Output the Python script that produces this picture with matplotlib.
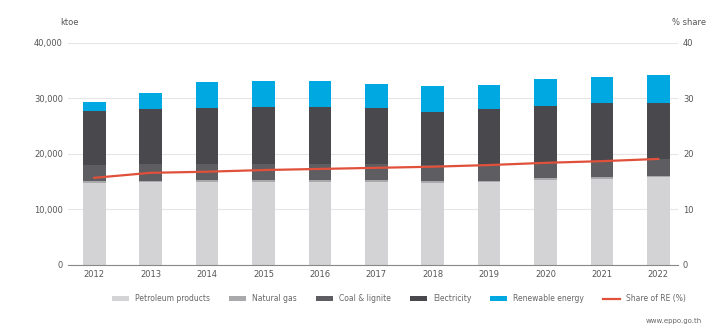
import numpy as np
import matplotlib
matplotlib.use("Agg")
import matplotlib.pyplot as plt

years = ["2012", "2013", "2014", "2015", "2016", "2017", "2018", "2019", "2020", "2021", "2022"]

# ktoe
petroleum = [14800, 14900, 15000, 15000, 15000, 15000, 14800, 14900, 15300, 15500, 15800]
natural_gas = [300, 300, 300, 300, 300, 300, 300, 300, 300, 300, 300]
coal = [2900, 2900, 2900, 2900, 2900, 2900, 2900, 2900, 2900, 2900, 2900]
dark_tops = [27750, 28110, 28290, 28470, 28470, 28290, 27570, 28110, 28650, 29190, 29190]
totals = [29370, 30990, 32970, 33150, 33150, 32610, 32250, 32430, 33510, 33870, 34230]
share = [15.7, 16.6, 16.8, 17.1, 17.3, 17.5, 17.7, 18.0, 18.4, 18.7, 19.1]

labels = ["Petroleum products", "Natural gas", "Coal & lignite",
          "Electricity", "Renewable energy", "Share of RE (%)"]

p = np.array(petroleum)
g = np.array(natural_gas)
c = np.array(coal)
elec = np.array(dark_tops) - (p + g + c)
ren = np.array(totals) - np.array(dark_tops)

fig = plt.figure(figsize=(7.13, 3.3), dpi=100)
ax = fig.add_axes([0.095, 0.197, 0.856, 0.673])
x = np.arange(len(years))
w = 0.4

cols = ["#d3d3d5", "#a9a9ac", "#5d5d62", "#48484d", "#00a8e1"]
bottom = np.zeros(len(years))
for vals, col, lab in zip([p, g, c, elec, ren], cols, labels[:5]):
    ax.bar(x, vals, w, bottom=bottom, color=col, label=lab, zorder=2)
    bottom = bottom + vals

ax.set_ylim(0, 40000)
ax.set_xlim(-0.47, 10.35)
ax.set_yticks([0, 10000, 20000, 30000, 40000])
ax.set_yticklabels(["0", "10,000", "20,000", "30,000", "40,000"])
ax.set_xticks(x)
ax.set_xticklabels(years)
ax.tick_params(labelsize=6, colors="#555555", length=0)
ax.grid(axis="y", color="#e6e6e6", lw=0.8, zorder=0)
for s in ["top", "right", "left"]:
    ax.spines[s].set_visible(False)
ax.spines["bottom"].set_color("#888888")

ax2 = ax.twinx()
ax2.plot(x, share, color="#e0503a", lw=1.6, label=labels[5], zorder=5)
ax2.set_ylim(0, 40)
ax2.set_yticks([0, 10, 20, 30, 40])
ax2.tick_params(labelsize=6, colors="#555555", length=0)
for s in ["top", "right", "left", "bottom"]:
    ax2.spines[s].set_visible(False)

fig.text(0.085, 0.925, "ktoe", fontsize=6, color="#555555")
fig.text(0.99, 0.925, "% share", fontsize=6, color="#555555", ha="right")

h1, l1 = ax.get_legend_handles_labels()
h2, l2 = ax2.get_legend_handles_labels()
fig.legend(h1 + h2, l1 + l2, loc="center", bbox_to_anchor=(0.56, 0.095), ncol=6,
           frameon=False, fontsize=5.5, handlelength=2.2, handleheight=0.5,
           columnspacing=2.5, labelcolor="#666666")
fig.text(0.985, 0.02, "www.eppo.go.th", fontsize=5, color="#666666", ha="right")

fig.savefig("out.png", dpi=100)
